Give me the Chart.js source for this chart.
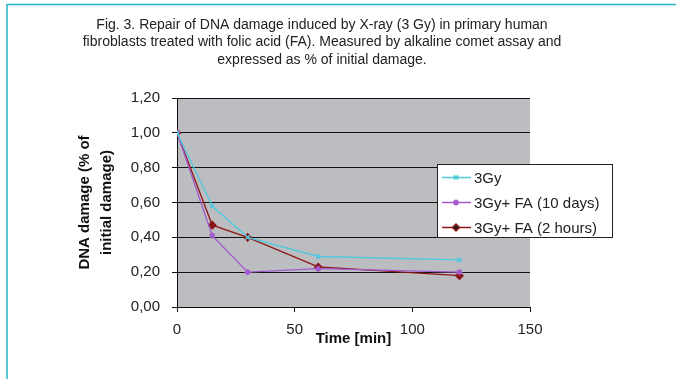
<!DOCTYPE html>
<html>
<head>
<meta charset="utf-8">
<script src="https://cdn.jsdelivr.net/npm/chart.js@4/dist/chart.umd.min.js"></script>
<style>
  html, body { margin: 0; padding: 0; background: #fff; }
  canvas { display: block; }
</style>
</head>
<body>
<canvas id="repairChart" width="676" height="379"></canvas>
<script>
// time points (min) and fraction of initial damage
const timeMin = [0, 15, 30, 60, 120];
const gy3 = [1.00, 0.58, 0.40, 0.29, 0.27];
const gy3Fa10d = [1.00, 0.41, 0.20, 0.22, 0.20];
const gy3Fa2h = [1.00, 0.47, 0.40, 0.23, 0.18];
const seriesNames = ['3Gy', '3Gy+ FA (10 days)', '3Gy+ FA (2 hours)'];
const yTicks = [0, 0.2, 0.4, 0.6, 0.8, 1.0, 1.2];
const xTicks = [0, 50, 100, 150];
const titleLines = [
    'Fig. 3. Repair of DNA damage induced by X-ray (3 Gy) in primary human',
    'fibroblasts treated with folic acid (FA). Measured by alkaline comet assay and',
    'expressed as % of initial damage.'
];

const colors = {
    cyan: 'rgb(80, 200, 222)',
    purple: 'rgb(160, 90, 205)',
    red: 'rgb(140, 22, 22)',
    teal: 'rgb(40, 180, 200)',
    plotBg: 'rgb(188, 189, 193)'
};

const font = "'Liberation Sans', Arial, sans-serif";
const toPoints = (ys) => timeMin.map((t, i) => ({ x: t, y: ys[i] }));

const frameAndBackground = {
    id: 'frameAndBackground',
    beforeDraw(chart) {
        const { ctx, chartArea } = chart;
        ctx.save();
        ctx.fillStyle = colors.plotBg;
        ctx.fillRect(chartArea.left, chartArea.top,
            chartArea.right - chartArea.left, chartArea.bottom - chartArea.top);
        // teal page frame (top + left only)
        ctx.strokeStyle = colors.teal;
        ctx.lineWidth = 1.5;
        ctx.beginPath();
        ctx.moveTo(7, 379);
        ctx.lineTo(7, 4.5);
        ctx.lineTo(676, 4.5);
        ctx.stroke();
        // figure caption, centred a bit left of the page middle
        ctx.fillStyle = '#222';
        ctx.font = '14px ' + font;
        ctx.textAlign = 'center';
        ctx.textBaseline = 'middle';
        titleLines.forEach((line, i) => ctx.fillText(line, 322, 25 + i * 17.5));
        ctx.restore();
    }
};

// boxed legend sitting over the right part of the plot
const boxLegend = {
    id: 'boxLegend',
    afterDraw(chart) {
        const { ctx } = chart;
        const box = { x: 437.5, y: 164.5, w: 175, h: 73 };
        ctx.save();
        ctx.fillStyle = '#fff';
        ctx.fillRect(box.x, box.y, box.w, box.h);
        ctx.strokeStyle = '#222';
        ctx.lineWidth = 1;
        ctx.strokeRect(box.x, box.y, box.w, box.h);
        ctx.font = '15px ' + font;
        ctx.textBaseline = 'middle';
        chart.data.datasets.forEach((ds, i) => {
            const y = box.y + 13 + i * 25;
            ctx.strokeStyle = ds.borderColor;
            ctx.lineWidth = 1.5;
            ctx.beginPath();
            ctx.moveTo(442, y);
            ctx.lineTo(471, y);
            ctx.stroke();
            Chart.helpers.drawPoint(ctx, {
                pointStyle: ds.pointStyle,
                radius: ds.pointRadius,
                borderWidth: 1.5
            }, 456, y);
            ctx.fillStyle = '#222';
            ctx.fillText(ds.label, 474, y + 1);
        });
        ctx.restore();
    }
};

const seriesStyle = (color, style, radius) => ({
    borderColor: color,
    backgroundColor: color,
    pointBackgroundColor: color,
    pointBorderColor: color,
    pointStyle: style,
    pointRadius: radius,
    pointBorderWidth: 1.5,
    borderWidth: 1.3,
    tension: 0
});

new Chart(document.getElementById('repairChart'), {
    type: 'line',
    data: {
        datasets: [
            { label: seriesNames[0], data: toPoints(gy3), ...seriesStyle(colors.cyan, 'crossRot', 3) },
            { label: seriesNames[1], data: toPoints(gy3Fa10d), ...seriesStyle(colors.purple, 'star', 3) },
            { label: seriesNames[2], data: toPoints(gy3Fa2h), ...seriesStyle(colors.red, 'rectRot', 3.5) }
        ]
    },
    options: {
        responsive: false,
        animation: false,
        layout: { padding: { left: 0, right: 146, top: 98, bottom: 0 } },
        plugins: {
            legend: { display: false },
            tooltip: { enabled: false },
            title: { display: false }
        },
        scales: {
            x: {
                type: 'linear',
                min: 0,
                max: 150,
                afterFit: (scale) => { scale.height = 72; },
                afterBuildTicks: (scale) => { scale.ticks = xTicks.map(v => ({ value: v })); },
                ticks: { color: '#222', font: { family: font, size: 15 }, padding: 9, maxRotation: 0 },
                grid: { drawOnChartArea: false, drawTicks: true, tickLength: 5, color: '#111' },
                border: { color: '#111' },
                title: {
                    display: true,
                    text: 'Time [min]',
                    color: '#111',
                    font: { family: font, size: 15, weight: 'bold', lineHeight: 1.2 },
                    padding: { top: 0, bottom: 31 }
                }
            },
            y: {
                min: 0,
                max: 1.2,
                afterFit: (scale) => { scale.width = 177; },
                afterBuildTicks: (scale) => { scale.ticks = yTicks.map(v => ({ value: v })); },
                ticks: {
                    color: '#222',
                    font: { family: font, size: 15 },
                    padding: 12,
                    callback: (v) => v.toFixed(2).replace('.', ',')
                },
                grid: { color: '#111', tickLength: 5, lineWidth: 1 },
                border: { color: '#111' },
                title: {
                    display: true,
                    text: ['DNA damage (% of', 'initial damage)'],
                    color: '#111',
                    font: { family: font, size: 15, weight: 'bold', lineHeight: 1.47 },
                    padding: { top: 74, bottom: 0 }
                }
            }
        }
    },
    plugins: [frameAndBackground, boxLegend]
});
</script>
</body>
</html>
